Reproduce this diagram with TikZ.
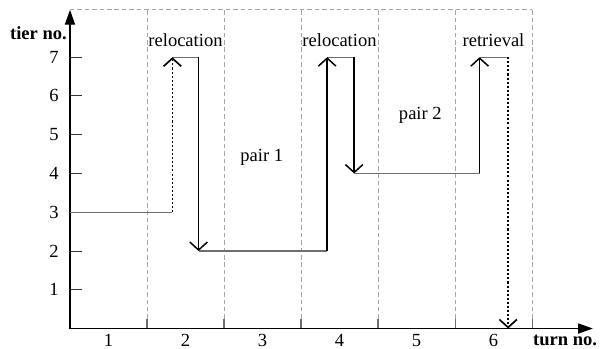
\documentclass[tikz,border=0pt]{standalone}
\usepackage{fontspec}
\setmainfont{Liberation Serif}
\usetikzlibrary{arrows.meta,positioning,calc}
\definecolor{gridgray}{RGB}{165,165,165}
\definecolor{linkgray}{RGB}{110,110,110}

\begin{document}
\begin{tikzpicture}[
  x=1.46cm, y=0.735cm,
  font=\normalsize,
  axis/.style={-{Triangle[length=8pt,width=5.5pt]}, line width=0.7pt},
  cell/.style={draw=gridgray, dashed, dash pattern=on 2.4pt off 1.6pt, line width=0.45pt},
  tick/.style={draw=black!80, line width=0.5pt},
  link/.style={draw=linkgray, line width=0.55pt},
  move/.style={-{Straight Barb[length=4.3pt,width=9.5pt]}, line width=0.8pt},
  dotmove/.style={move, dash pattern=on 1.1pt off 1.1pt, line width=0.9pt},
  tag/.style={inner sep=1pt},
  axlabel/.style={font=\bfseries, inner sep=1pt}
]
\useasboundingbox (-0.909,-0.517) rectangle (6.883,8.475);

% =========================================================
% axes and turn columns
% =========================================================
\coordinate (O)    at (0,0);
\coordinate (ytop) at (0,8.22);
\coordinate (xend) at (6.79,0);
\coordinate (gtop) at (6,8.22);

\draw[cell] (ytop) -- (gtop);
\foreach \k in {1,...,6}{
  \draw[cell] (\k,0.25) -- (\k,8.22);
  \draw[link] (\k,0) -- (\k,0.25);
}
\foreach \t in {1,...,7}{
  \draw[tick] (0,\t) -- (0.15,\t);
  \node[tag, anchor=east] (ylab\t) at (-0.12,\t) {\t};
}
\foreach \k in {1,...,6}{
  \node[tag] (xlab\k) at (\k-0.5,-0.31) {\k};
}

\draw[axis] (O) -- (ytop);
\draw[axis] (O) -- (xend);
\node[axlabel] (tierno) at (-0.41,7.62) {tier no.};
\node[axlabel] (turnno) at (6.43,-0.31) {turn no.};

% =========================================================
% stack moves
% =========================================================
\coordinate (s0)  at (0,3);
\coordinate (u1b) at (1.33,3);  \coordinate (u1t) at (1.33,7);
\coordinate (d1t) at (1.67,7);  \coordinate (d1b) at (1.67,2);
\coordinate (u2b) at (3.34,2);  \coordinate (u2t) at (3.34,7);
\coordinate (d2t) at (3.69,7);  \coordinate (d2b) at (3.69,4);
\coordinate (u3b) at (5.32,4);  \coordinate (u3t) at (5.32,7);
\coordinate (d3t) at (5.69,7);  \coordinate (d3b) at (5.69,0);

% horizontal links (tier kept between turns)
\draw[link] (s0)  -- (u1b);
\draw[link] (u1t) -- (d1t);
\draw[link] (d1b) -- (u2b);
\draw[link] (u2t) -- (d2t);
\draw[link] (d2b) -- (u3b);
\draw[link] (u3t) -- (d3t);

% vertical moves
\draw[dotmove] (u1b) -- (u1t);
\draw[move]    (d1t) -- (d1b);
\draw[move]    (u2b) -- (u2t);
\draw[move]    (d2t) -- (d2b);
\draw[move]    (u3b) -- (u3t);
\draw[dotmove] (d3t) -- (d3b);

% labels
\node[tag] (reloc1) at (1.5,7.44) {relocation};
\node[tag] (reloc2) at (3.5,7.44) {relocation};
\node[tag] (retr)   at (5.5,7.44) {retrieval};
\node[tag] (pair1)  at (2.49,4.42) {pair 1};
\node[tag] (pair2)  at (4.55,5.5) {pair 2};

\end{tikzpicture}
\end{document}
